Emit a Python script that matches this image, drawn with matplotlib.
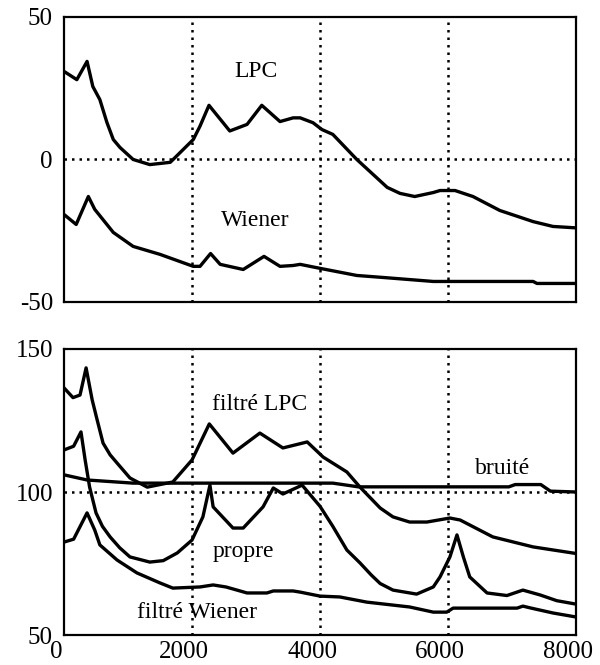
"""
Spectres LPC / Wiener et spectres filtres (propre, bruite)
"""
import matplotlib
matplotlib.use('Agg')
import matplotlib.pyplot as plt
import matplotlib.transforms as mtransforms

# panneau du haut : filtres
lpc_x = [0, 200, 360, 450, 560, 670, 770, 875, 1080, 1340, 1660, 2020, 2125, 2265, 2590,
         2860, 3090, 3375, 3580, 3690, 3890, 4030, 4200, 4575, 5050, 5250, 5480, 5770,
         5875, 6110, 6390, 6810, 7330, 7640, 8000]
lpc_y = [30.9, 28, 34.4, 25.6, 21, 13, 7, 4.2, 0, -1.8, -1, 7, 11.7, 19, 10,
         12.3, 19, 13.3, 14.6, 14.6, 12.9, 10.5, 8.8, 0, -9.8, -11.9, -13, -11.6,
         -10.9, -10.9, -13, -17.9, -21.8, -23.5, -24]

wiener_x = [0, 190, 380, 480, 770, 1080, 1500, 2020, 2125, 2290, 2440, 2800, 3125,
            3375, 3580, 3690, 4000, 4575, 4985, 5770, 7330, 7390, 8000]
wiener_y = [-19.3, -22.8, -13, -17.5, -25.6, -30.5, -33.3, -37.5, -37.5, -33, -36.8,
            -38.6, -34, -37.5, -37.2, -36.8, -38.2, -40.7, -41.4, -42.8, -42.8, -43.5, -43.5]

# panneau du bas : spectres
flpc_x = [0, 140, 250, 345, 440, 520, 610, 720, 830, 1030, 1300, 1700, 2000, 2270, 2640,
          3060, 3420, 3800, 4050, 4420, 4625, 4940, 5140, 5400, 5670, 6030, 6190, 6700,
          7330, 8000]
flpc_y = [136.4, 133, 133.9, 143.4, 132.2, 125, 117.1, 113, 110.1, 104.9, 101.7, 103.5,
          111.2, 123.8, 113.6, 120.6, 115.4, 117.5, 112.2, 107, 101.7, 94.4, 91.3, 89.5,
          89.5, 90.9, 90.2, 84.3, 80.8, 78.5]

bruite_x = [0, 360, 1080, 4200, 4600, 6950, 7050, 7450, 7600, 8000]
bruite_y = [106, 104.2, 103.1, 103.1, 101.8, 101.8, 102.6, 102.6, 100.3, 100]

propre_x = [0, 150, 265, 330, 400, 500, 600, 720, 870, 1030, 1340, 1550, 1770, 2000, 2170,
            2280, 2330, 2640, 2800, 3110, 3270, 3420, 3720, 4000, 4200, 4420, 4625, 4800,
            4940, 5140, 5510, 5770, 5875, 6030, 6140, 6240, 6340, 6610, 6920, 7170, 7440,
            7700, 8000]
propre_y = [114.7, 116, 121, 111.2, 101.7, 92.7, 88, 84.3, 80.5, 77.3, 75.5, 76, 78.7,
            83.2, 91.3, 102.4, 94.8, 87.4, 87.4, 94.8, 101.4, 99.3, 102.4, 95, 88, 79.7,
            75.2, 71, 68, 65.7, 64.3, 66.8, 70.3, 77.3, 85, 77.3, 70.3, 64.7, 63.8, 65.7,
            64, 62, 60.8]

fwiener_x = [0, 150, 360, 480, 560, 830, 1140, 1500, 1700, 2125, 2330, 2530, 2860, 3170,
             3270, 3580, 3690, 4000, 4310, 4730, 5400, 5770, 5980, 6080, 7080, 7170, 7300,
             7640, 8000]
fwiener_y = [82.5, 83.5, 92.7, 86.7, 81.5, 76.2, 71.7, 68.2, 66.4, 66.8, 67.5, 66.8,
             64.7, 64.7, 65.4, 65.4, 65.0, 63.6, 63.3, 61.5, 59.8, 58, 58, 59.4, 59.4,
             60.1, 59.4, 57.7, 56.3]

x_ticks = [0, 2000, 4000, 6000, 8000]
grid_x = [2000, 4000, 6000]


def setup(ax, ylim, yticks, hline, fig, show_x):
    ax.set_xlim(0, 8000)
    ax.set_ylim(*ylim)
    ax.set_yticks(yticks)
    ax.set_yticklabels([str(v) for v in yticks])
    for s in ax.spines.values():
        s.set_linewidth(1.6)
    for gx in grid_x:
        ax.axvline(gx, color='black', lw=1.8, ls=(0, (1, 2)), zorder=1)
    ax.axhline(hline, color='black', lw=1.8, ls=(0, (1, 2)), zorder=1)
    ax.tick_params(axis='y', length=0, labelsize=18, pad=8)
    ax.tick_params(axis='x', length=0, labelsize=18, pad=4)
    if show_x:
        ax.set_xticks(x_ticks)
        ax.set_xticklabels([str(v) for v in x_ticks])
        off = mtransforms.ScaledTranslation(-8 / 100, 0, fig.dpi_scale_trans)
        for lab in ax.get_xticklabels():
            lab.set_transform(lab.get_transform() + off)
    else:
        ax.set_xticks([])


def main():
    plt.rcParams['font.family'] = ['Liberation Serif', 'DejaVu Serif']
    fig = plt.figure(figsize=(6.0, 6.65), dpi=100)
    ax1 = fig.add_axes([0.1067, 0.5459, 0.8533, 0.4286])
    ax2 = fig.add_axes([0.1067, 0.0451, 0.8533, 0.4301])

    setup(ax1, (-50, 50), [-50, 0, 50], 0, fig, False)
    setup(ax2, (50, 150), [50, 100, 150], 100, fig, True)

    lw = 2.4
    ax1.plot(lpc_x, lpc_y, color='black', lw=lw, zorder=3)
    ax1.plot(wiener_x, wiener_y, color='black', lw=lw, zorder=3)
    ax1.text(3000, 28.8, 'LPC', ha='center', va='baseline', fontsize=17)
    ax1.text(2985, -23.5, 'Wiener', ha='center', va='baseline', fontsize=17)

    ax2.plot(flpc_x, flpc_y, color='black', lw=lw, zorder=3)
    ax2.plot(bruite_x, bruite_y, color='black', lw=lw, zorder=3)
    ax2.plot(propre_x, propre_y, color='black', lw=lw, zorder=3)
    ax2.plot(fwiener_x, fwiener_y, color='black', lw=lw, zorder=3)
    ax2.text(3060, 128.7, 'filtré LPC', ha='center', va='baseline', fontsize=17)
    ax2.text(6860, 106.3, 'bruité', ha='center', va='baseline', fontsize=17)
    ax2.text(2810, 77.3, 'propre', ha='center', va='baseline', fontsize=17)
    ax2.text(2080, 55.9, 'filtré Wiener', ha='center', va='baseline', fontsize=17)

    fig.savefig('out.png', dpi=100)
    plt.close(fig)


if __name__ == "__main__":
    main()
